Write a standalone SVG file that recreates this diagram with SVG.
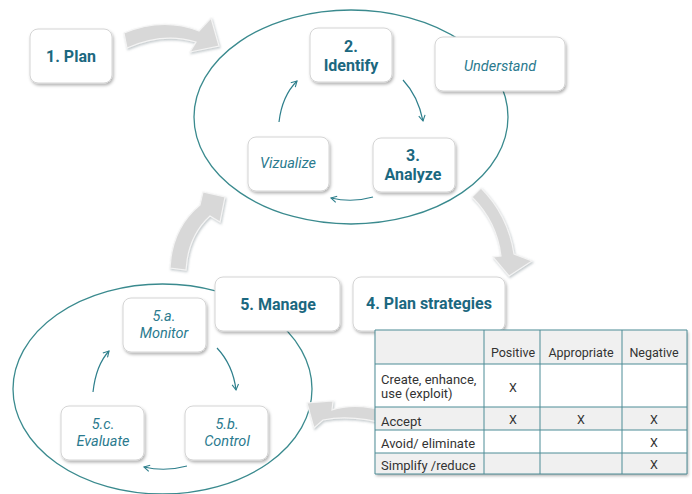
<svg xmlns="http://www.w3.org/2000/svg" width="692" height="494" viewBox="0 0 692 494">
<defs>
<filter id="sh" x="-20%" y="-20%" width="140%" height="150%">
<feDropShadow dx="1.2" dy="2" stdDeviation="1.4" flood-color="#000" flood-opacity="0.3"/>
</filter>
<filter id="ash" x="-20%" y="-20%" width="140%" height="140%">
<feDropShadow dx="1" dy="1.5" stdDeviation="1.2" flood-color="#7a8a90" flood-opacity="0.45"/>
</filter>
<marker id="ah" viewBox="0 0 10 10" refX="8" refY="5" markerWidth="8" markerHeight="8" markerUnits="userSpaceOnUse" orient="auto">
<path d="M1,1 L8,5 L1,9" fill="none" stroke="#2e7f8c" stroke-width="1.4"/>
</marker>
</defs>
<style>
.box{fill:#fff;stroke:#d4d4d4;stroke-width:1;filter:url(#sh)}
.ell{fill:none;stroke:#3a8a8e;stroke-width:1.3}
.b{font-family:Roboto,"Liberation Sans",sans-serif;font-weight:bold;font-size:16px;fill:#1b6880;text-anchor:middle}
.i{font-family:Roboto,"Liberation Sans",sans-serif;font-style:italic;font-size:14.5px;fill:#2a7a8e;text-anchor:middle}
.ga{fill:#d8d8d8;stroke:#f4f4f4;stroke-width:1.2;filter:url(#ash)}
.sa{fill:none;stroke:#2e7f8c;stroke-width:1.2;marker-end:url(#ah)}
.t{font-family:Roboto,"Liberation Sans",sans-serif;font-size:13px;fill:#333}
.tc{font-family:Roboto,"Liberation Sans",sans-serif;font-size:12.5px;fill:#333;text-anchor:middle}
.grid{stroke:#4d8c96;stroke-width:1;fill:none}
</style>
<rect width="692" height="494" fill="#fff"/>

<g id="ellipses">
<ellipse class="ell" cx="351" cy="117" rx="157" ry="107"/>
<ellipse class="ell" cx="162.5" cy="389" rx="149.5" ry="105"/>
</g>

<g id="connectors">
<path class="ga" d="M124,33 Q163,17 199,31 L211,18 L219,46 L190,52 L196,42 Q163,32 127,48 Z"/>
<path class="ga" d="M472,197 L481,188 Q508,215 514,254 L532,261 L509,276 L493,257 L501,256 Q497,222 472,197 Z"/>
<path class="ga" d="M390,412 Q355,402 332,410 L333,401 L307,403 L314,428 L323,420 Q352,414 390,425 Z"/>
<path class="ga" d="M170,268 Q172,228 200,205 L203,192 L225,197 L220,222 L210,216 Q188,236 186,270 Z"/>
<path class="sa" d="M279,122 Q282,96 297,81"/>
<path class="sa" d="M403,80 Q418,96 423,121"/>
<path class="sa" d="M373,197 Q352,203 331,198"/>
<path class="sa" d="M93,392 Q96,365 109,351"/>
<path class="sa" d="M217,348 Q233,365 236,390"/>
<path class="sa" d="M187,466 Q165,472 144,467"/>
</g>

<g id="n1"><rect class="box" x="30" y="29" width="82" height="54" rx="8"/><text class="b" x="71" y="62" font-size="15">1. Plan</text></g>
<g id="n2"><rect class="box" x="310" y="28" width="82" height="54" rx="8"/><text class="b" x="351" y="52">2.</text><text class="b" x="351" y="71">Identify</text></g>
<g id="nU"><rect class="box" x="435" y="37" width="130" height="54" rx="8"/><text class="i" x="500" y="71" font-size="18">Understand</text></g>
<g id="nV"><rect class="box" x="248" y="137" width="81" height="54" rx="8"/><text class="i" x="288" y="168">Vizualize</text></g>
<g id="n3"><rect class="box" x="373" y="138" width="82" height="54" rx="8"/><text class="b" x="413" y="161">3.</text><text class="b" x="413" y="180">Analyze</text></g>
<g id="n5"><rect class="box" x="215" y="277" width="125" height="54" rx="8"/><text class="b" x="278" y="310" font-size="16.5">5. Manage</text></g>
<g id="n4"><rect class="box" x="353" y="277" width="152" height="54" rx="8"/><text class="b" x="429" y="309" font-size="16.5">4. Plan strategies</text></g>
<g id="n5a"><rect class="box" x="123" y="298" width="83" height="54" rx="8"/><text class="i" x="164" y="321">5.a.</text><text class="i" x="164" y="338">Monitor</text></g>
<g id="n5c"><rect class="box" x="61" y="406" width="83" height="54" rx="8"/><text class="i" x="103" y="429">5.c.</text><text class="i" x="103" y="446">Evaluate</text></g>
<g id="n5b"><rect class="box" x="185" y="406" width="83" height="54" rx="8"/><text class="i" x="227" y="429">5.b.</text><text class="i" x="227" y="446">Control</text></g>

<g id="table">
<rect x="375" y="330" width="312" height="144" fill="#fff" filter="url(#sh)"/>
<rect x="375" y="330" width="312" height="34" fill="#f0f0f0"/>
<rect x="375" y="407" width="312" height="23" fill="#f0f0f0"/>
<rect x="375" y="453" width="312" height="21" fill="#f0f0f0"/>
<path class="grid" d="M375,330 H687 V474 H375 Z M375,364 H687 M375,407 H687 M375,430 H687 M375,453 H687 M484,330 V474 M540,330 V474 M622,330 V474"/>
<text class="tc" x="513" y="357">Positive</text>
<text class="tc" x="581" y="357">Appropriate</text>
<text class="tc" x="654" y="357">Negative</text>
<text class="t" x="381" y="384">Create, enhance,</text>
<text class="t" x="381" y="398">use (exploit)</text>
<text class="tc" x="513" y="392">X</text>
<text class="t" x="381" y="426">Accept</text>
<text class="tc" x="513" y="424">X</text>
<text class="tc" x="581" y="424">X</text>
<text class="tc" x="654" y="424">X</text>
<text class="t" x="381" y="448">Avoid/ eliminate</text>
<text class="tc" x="654" y="447">X</text>
<text class="t" x="381" y="470">Simplify /reduce</text>
<text class="tc" x="654" y="469">X</text>
</g>
</svg>
